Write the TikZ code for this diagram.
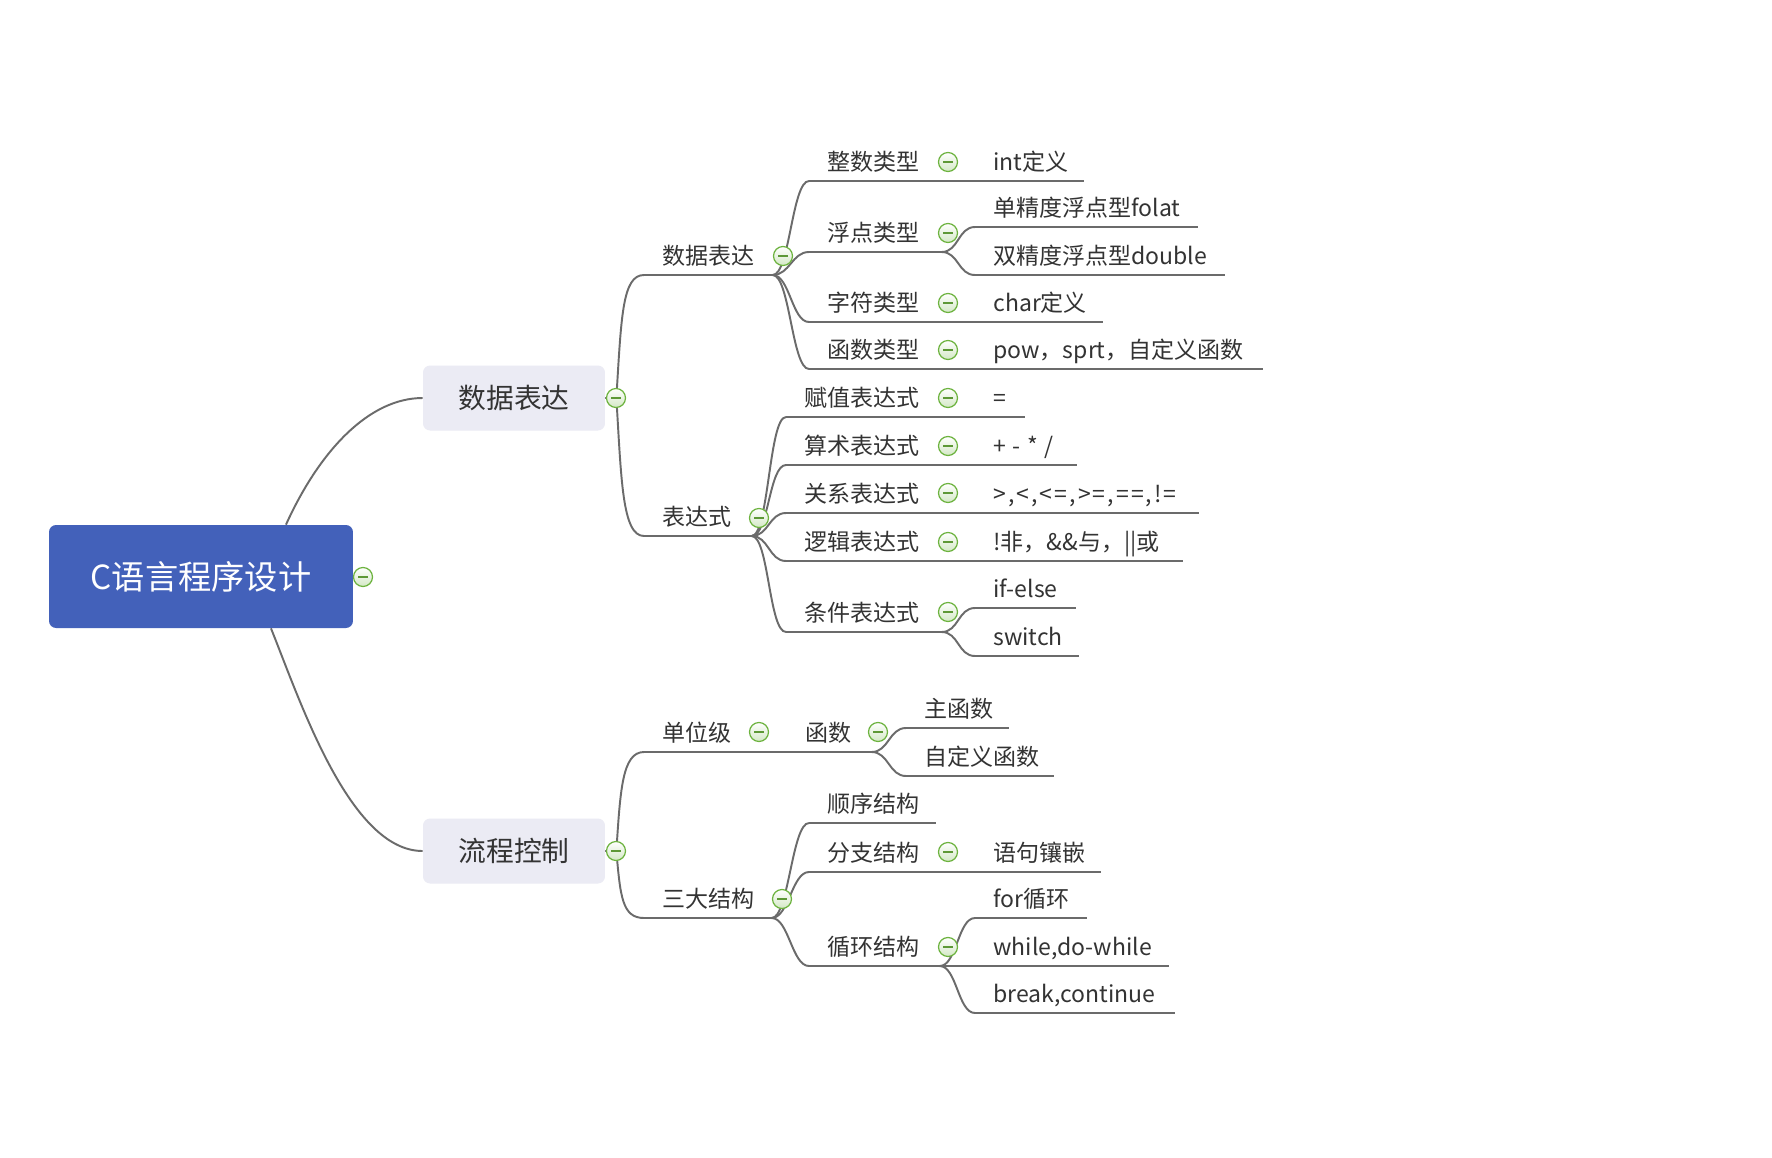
\documentclass[tikz,border=0pt]{standalone}
\usepackage{fontspec}
\setmainfont{Noto Sans CJK SC}
\usepackage{tikz}
\usetikzlibrary{positioning}
\definecolor{rootblue}{HTML}{4361BA}
\definecolor{boxgray}{HTML}{EBEBF4}
\definecolor{linegray}{HTML}{6B6B6B}
\definecolor{foldgreen}{HTML}{6DB33F}
\definecolor{txtgray}{HTML}{333333}
\newdimen\topicwd
\newcommand{\topicline}[5]{
    \pgfmathsetlength{\topicwd}{(#3-#2)*0.02cm}
    \node[topic] (#1) at (#2,#4) {\makebox[\topicwd][l]{\hspace{0.36cm}#5}};
    \draw[conn] (#1.south west) -- (#1.south east);
}

\begin{document}
\begin{tikzpicture}[x=0.02cm,y=-0.02cm,
    conn/.style={draw=linegray,line width=1.1pt},
    topic/.style={anchor=south west,inner xsep=0pt,inner ysep=2.6pt,text height=10pt,text depth=3.3pt,text=txtgray,font=\fontsize{13.1pt}{15pt}\selectfont},
    mainbox/.style={fill=boxgray,rounded corners=4pt,minimum width=3.64cm,minimum height=1.3cm,text=txtgray,font=\fontsize{15.8pt}{19pt}\selectfont},
    rootbox/.style={fill=rootblue,rounded corners=4pt,minimum width=6.08cm,minimum height=2.06cm,text=white,font=\fontsize{18.9pt}{22pt}\selectfont},
    fold/.style={circle,draw=foldgreen,line width=0.7pt,top color=white,bottom color=foldgreen!30,minimum size=0.38cm,inner sep=0pt,
        path picture={\draw[foldgreen!85!black,line width=0.7pt] ([xshift=-0.1cm]path picture bounding box.center) -- ([xshift=0.1cm]path picture bounding box.center);}}]
    \fill[white] (0,0) rectangle (1772,1157);
    \useasboundingbox (0,0) rectangle (1772,1157);

    % central topic and main topics
    \node[rootbox] (root) at (201,576.5) {C语言程序设计};
    \node[mainbox] (dbox) at (514,398) {数据表达};
    \node[mainbox] (fbox) at (514,851) {流程控制};

    % second level
    \topicline{dexp}{644}{772}{275}{数据表达}
    \topicline{expr}{644}{751}{536}{表达式}
    \topicline{unit}{644}{771}{752}{单位级}
    \topicline{three}{644}{771}{918}{三大结构}

    % third level
    \topicline{intt}{809}{941}{181}{整数类型}
    \topicline{floatt}{809}{941}{252}{浮点类型}
    \topicline{chart}{809}{941}{322}{字符类型}
    \topicline{funct}{809}{941}{369}{函数类型}
    \topicline{assign}{786}{941}{417}{赋值表达式}
    \topicline{arith}{786}{941}{465}{算术表达式}
    \topicline{relat}{786}{941}{513}{关系表达式}
    \topicline{logic}{786}{941}{561}{逻辑表达式}
    \topicline{condi}{786}{941}{632}{条件表达式}
    \topicline{func}{787}{871}{752}{函数}
    \topicline{seq}{809}{935}{823}{顺序结构}
    \topicline{branchs}{809}{941}{872}{分支结构}
    \topicline{loop}{809}{939}{966}{循环结构}

    % leaves
    \topicline{intdef}{975}{1083}{181}{int定义}
    \topicline{single}{975}{1197}{227}{单精度浮点型folat}
    \topicline{double}{975}{1224}{275}{双精度浮点型double}
    \topicline{chardef}{975}{1102}{322}{char定义}
    \topicline{funcs}{975}{1262}{369}{pow，sprt，自定义函数}
    \topicline{eq}{975}{1024}{417}{=}
    \topicline{ops}{975}{1076}{465}{{\addfontfeature{LetterSpace=6}+ - * /}}
    \topicline{cmp}{975}{1198}{513}{{\addfontfeature{LetterSpace=9}>,<,<=,>=,==,!=}}
    \topicline{bool}{975}{1182}{561}{!非，\&\&与，||或}
    \topicline{ifelse}{975}{1075}{608}{if-else}
    \topicline{switch}{975}{1078}{656}{switch}
    \topicline{mainf}{906}{1008}{728}{主函数}
    \topicline{userf}{906}{1053}{776}{自定义函数}
    \topicline{nest}{975}{1100}{872}{语句镶嵌}
    \topicline{forl}{975}{1086}{918}{for循环}
    \topicline{whilel}{975}{1168}{966}{while,do-while}
    \topicline{breakl}{975}{1174}{1013}{break,continue}

    % connectors
    \draw[conn] ([xshift=1.7cm]root.north) .. controls +(34,-75) and +(-53,0) .. (dbox.west);
    \draw[conn] ([xshift=1.4cm]root.south) .. controls +(29,72) and +(-73,0) .. (fbox.west);
    \draw[conn] (dbox.east) -- ++(11,0) .. controls +(5,-80) and +(-22,0) .. (dexp.south west);
    \draw[conn] (dbox.east) -- ++(11,0) .. controls +(5,80) and +(-22,0) .. (expr.south west);
    \draw[conn] (fbox.east) -- ++(11,0) .. controls +(4,-60) and +(-22,0) .. (unit.south west);
    \draw[conn] (fbox.east) -- ++(11,0) .. controls +(4,45) and +(-22,0) .. (three.south west);
    \foreach \p/\c in {dexp/intt,dexp/floatt,dexp/chart,dexp/funct,
        expr/assign,expr/arith,expr/relat,expr/logic,expr/condi,
        unit/func,three/seq,three/branchs,three/loop,
        intt/intdef,floatt/single,floatt/double,chart/chardef,funct/funcs,
        assign/eq,arith/ops,relat/cmp,logic/bool,condi/ifelse,condi/switch,
        func/mainf,func/userf,branchs/nest,loop/forl,loop/whilel,loop/breakl}
        \draw[conn] (\p.south east) .. controls +(17,0) and +(-17,0) .. (\c.south west);

    % collapse marks
    \foreach \n/\x/\y in {f-root/363/577,f-dbox/616/398,f-fbox/616/851,
        f-dexp/783/256,f-expr/759/518,f-unit/759/732,f-three/782/899,
        f-intt/948/162,f-floatt/948/233,f-chart/948/303,f-funct/948/350,
        f-assign/948/398,f-arith/948/446,f-relat/948/493,f-logic/948/542,f-condi/948/612,
        f-func/878/732,f-branchs/948/852,f-loop/948/947}
        \node[fold] (\n) at (\x,\y) {};
\end{tikzpicture}
\end{document}
